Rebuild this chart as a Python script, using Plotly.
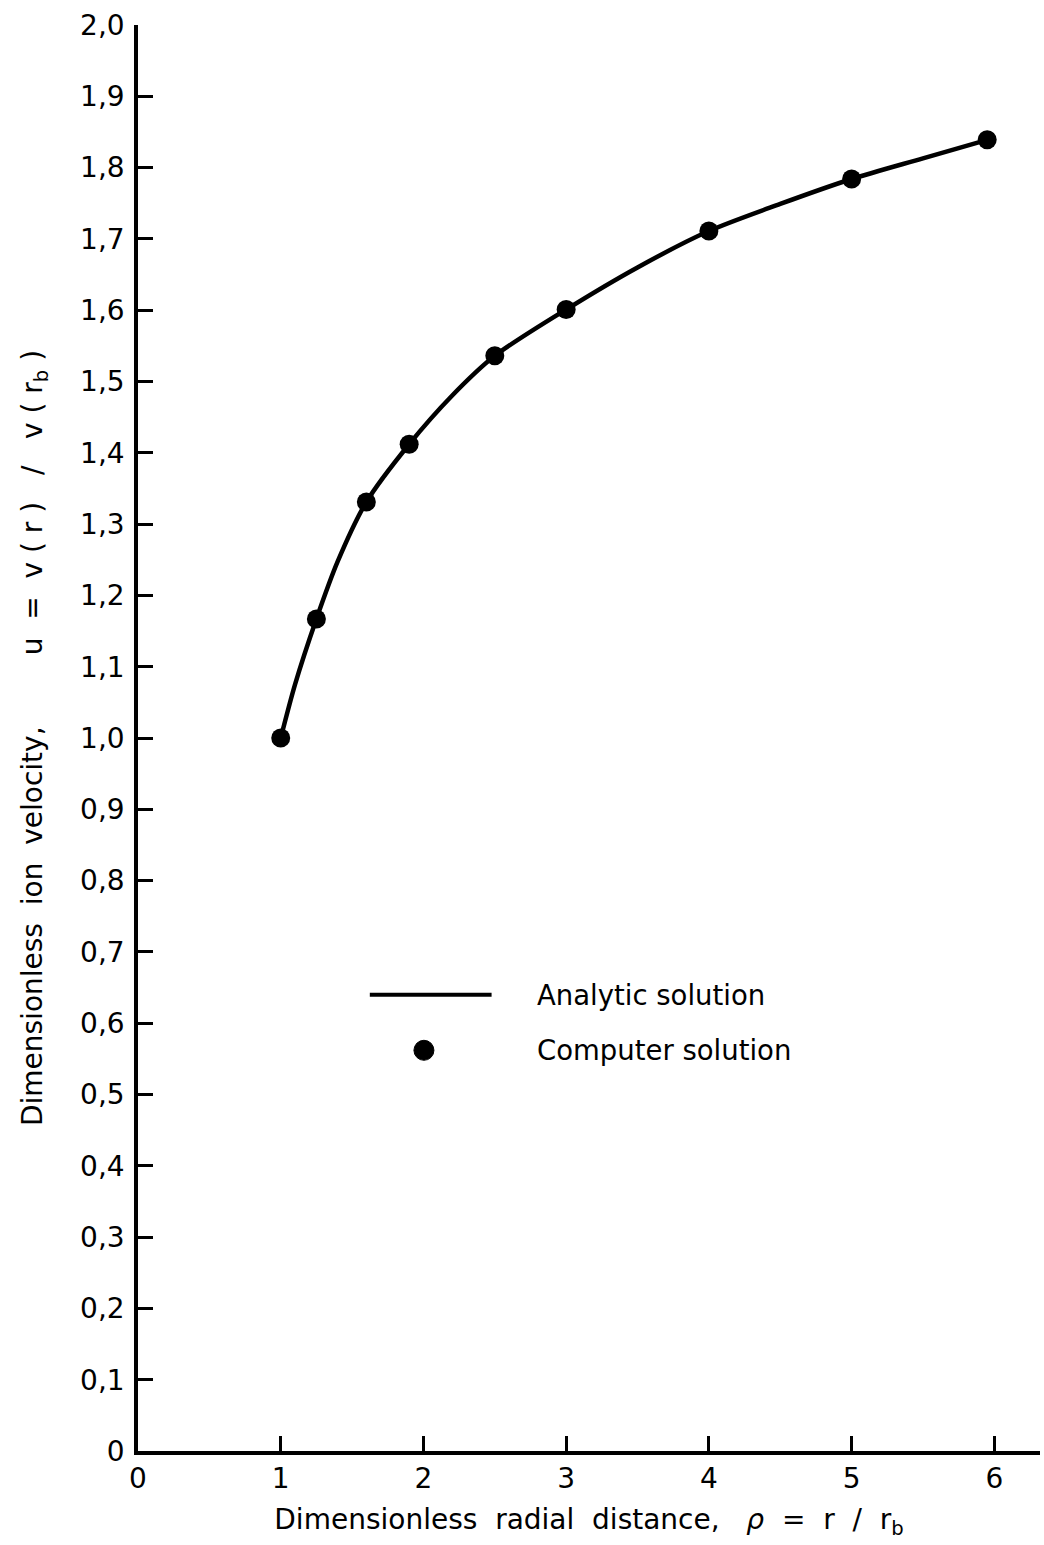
import plotly.graph_objects as go

# Computer solution (dots)
computer_x = [1.0, 1.25, 1.6, 1.9, 2.5, 3.0, 4.0, 5.0, 5.95]
computer_u = [1.0, 1.167, 1.331, 1.412, 1.536, 1.601, 1.711, 1.784, 1.839]

# Analytic solution (curve)
analytic_x = [1.0, 1.1, 1.25, 1.4, 1.6, 1.9, 2.2, 2.5, 3.0, 3.5, 4.0, 4.5, 5.0, 5.5, 5.95]
analytic_u = [1.0, 1.075, 1.167, 1.248, 1.331, 1.412, 1.48, 1.536, 1.601, 1.66, 1.711, 1.749, 1.784, 1.813, 1.839]

x_tickvals = [0, 1, 2, 3, 4, 5, 6]
x_ticktext = ["0", "1", "2", "3", "4", "5", "6"]
y_tickvals = [0, 0.1, 0.2, 0.3, 0.4, 0.5, 0.6, 0.7, 0.8, 0.9, 1.0,
              1.1, 1.2, 1.3, 1.4, 1.5, 1.6, 1.7, 1.8, 1.9, 2.0]
y_ticktext = ["0", "0,1", "0,2", "0,3", "0,4", "0,5", "0,6", "0,7", "0,8", "0,9", "1,0",
              "1,1", "1,2", "1,3", "1,4", "1,5", "1,6", "1,7", "1,8", "1,9", "2,0"]

FONT = "DejaVu Sans, Verdana, sans-serif"
NB = "\u00a0"

fig = go.Figure()
fig.add_trace(go.Scatter(
    x=analytic_x, y=analytic_u, mode="lines",
    line=dict(color="black", width=4.5, shape="spline", smoothing=0.8),
    name="Analytic solution", showlegend=False))
fig.add_trace(go.Scatter(
    x=computer_x, y=computer_u, mode="markers",
    marker=dict(color="black", size=19),
    name="Computer solution", showlegend=False, cliponaxis=False))

# Legend drawn in paper coordinates
leg_line_y = 0.320
leg_dot_y = 0.281
fig.add_shape(type="line", xref="paper", yref="paper",
              x0=0.257, x1=0.392, y0=leg_line_y, y1=leg_line_y,
              line=dict(color="black", width=4))
fig.add_shape(type="circle", xref="paper", yref="paper",
              xsizemode="pixel", ysizemode="pixel",
              xanchor=0.317, yanchor=leg_dot_y,
              x0=-10, x1=10, y0=-10, y1=10,
              fillcolor="black", line=dict(color="black", width=1))
fig.add_annotation(xref="paper", yref="paper", x=0.440, y=leg_line_y,
                   xanchor="left", yanchor="middle", showarrow=False,
                   text="Analytic solution", font=dict(family=FONT, size=27.5, color="black"))
fig.add_annotation(xref="paper", yref="paper", x=0.440, y=leg_dot_y,
                   xanchor="left", yanchor="middle", showarrow=False,
                   text="Computer solution", font=dict(family=FONT, size=27.5, color="black"))

S2 = NB * 2
xtitle = ("Dimensionless" + S2 + "radial" + S2 + "distance," + NB * 3 +
          "<i>ρ</i>" + S2 + "=" + S2 + "r" + S2 + "/" + S2 + "r<sub>b</sub>")
ytitle = ("Dimensionless" + S2 + "ion" + S2 + "velocity," + NB * 8 +
          "u" + S2 + "=" + S2 + "v" + NB + "(" + NB + "r" + NB + ")" + NB * 3 + "/" + NB * 3 +
          "v" + NB + "(" + NB + "r<sub>b</sub>" + NB + ")")

fig.update_layout(
    width=1044, height=1545,
    margin=dict(l=138, r=4, t=25, b=94, autoexpand=False),
    paper_bgcolor="white", plot_bgcolor="white",
    font=dict(family=FONT, color="black", size=28),
    xaxis=dict(range=[0, 6.32], showline=True, linecolor="black", linewidth=3.5,
               ticks="inside", ticklen=15, tickwidth=2.5, tickcolor="black",
               tickvals=x_tickvals, ticktext=x_ticktext, showgrid=False, zeroline=False,
               tickfont=dict(size=28, family=FONT),
               title=dict(text=xtitle, font=dict(size=28, family=FONT), standoff=16),
               automargin=False),
    yaxis=dict(range=[0, 2.0], showline=True, linecolor="black", linewidth=3.5,
               ticks="inside", ticklen=15, tickwidth=2.5, tickcolor="black",
               tickvals=y_tickvals, ticktext=y_ticktext, showgrid=False, zeroline=False,
               tickfont=dict(size=28, family=FONT), ticklabelstandoff=4,
               title=dict(text=ytitle, font=dict(size=28, family=FONT), standoff=30),
               automargin=False),
)

fig.write_html("out.html")
